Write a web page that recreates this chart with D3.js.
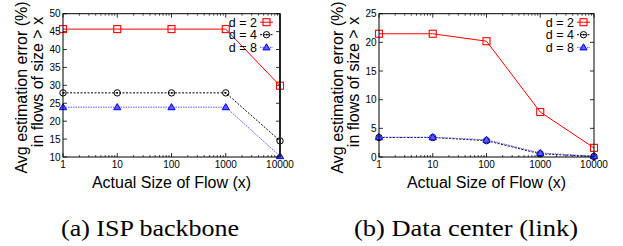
<!DOCTYPE html>
<html>
<head>
<meta charset="utf-8">
<script src="https://cdn.jsdelivr.net/npm/d3@7"></script>
<style>
  body { margin: 0; background: #fff; }
  svg { display: block; }
  text { font-family: "Liberation Sans", Arial, Helvetica, sans-serif; fill: #000; }
</style>
</head>
<body>
<svg width="623" height="246"></svg>
<script>
// data
const flowSizes = [1, 10, 100, 1000, 10000];
const xTickLabels = ["1", "10", "100", "1000", "10000"];

const ispD2 = [45.7, 45.7, 45.7, 45.7, 29.9];
const ispD4 = [27.9, 27.9, 27.9, 27.9, 14.5];
const ispD8 = [23.9, 23.9, 23.9, 23.9, 10.25];
const ispYTicks = [10, 15, 20, 25, 30, 35, 40, 45, 50];

const dcD2 = [21.5, 21.5, 20.2, 7.85, 1.6];
const dcD4 = [3.4, 3.4, 2.85, 0.55, 0.1];
const dcD8 = [3.45, 3.45, 3.0, 0.7, 0.15];
const dcYTicks = [0, 5, 10, 15, 20, 25];

const seriesNames = ["d = 2", "d = 4", "d = 8"];
const captions = ["(a) ISP backbone", "(b) Data center (link)"];

const svg = d3.select("svg");

const styles = [
  {color: "#ff0000", dash: null, marker: "square", lineColor: "#ff0000"},
  {color: "#000000", dash: "2,1.5", marker: "circle", lineColor: "#000000"},
  {color: "#0000ff", dash: "1.5,1", marker: "triangle", lineColor: "#5a5aff"}
];

function drawMarker(g, type, x, y, color) {
  if (type == "square") {
    g.append("rect")
      .attr("x", x - 3.5).attr("y", y - 3.5)
      .attr("width", 7).attr("height", 7)
      .attr("fill", "none").attr("stroke", color).attr("stroke-width", 1.1);
  } else if (type == "circle") {
    g.append("circle").attr("cx", x).attr("cy", y).attr("r", 3.2)
      .attr("fill", "none").attr("stroke", color).attr("stroke-width", 1);
    g.append("circle").attr("cx", x).attr("cy", y).attr("r", 0.9).attr("fill", color);
  } else {
    const s = 3.6;
    g.append("path")
      .attr("d", `M${x},${y - s} L${x + s},${y + s * 0.7} L${x - s},${y + s * 0.7} Z`)
      .attr("fill", "#5c5cff").attr("stroke", color).attr("stroke-width", 1);
  }
}

function drawPanel(opt) {
  const {left, right, top, bottom, yDomain, yTicks, series, caption, captionX, captionW, legendX, rightBorder} = opt;

  const x = d3.scaleLog().domain([1, 10000]).range([left, right]);
  const y = d3.scaleLinear().domain(yDomain).range([bottom, top]);

  const g = svg.append("g");

  // ticks: major inward on all sides, minor log ticks on x
  const majT = 4, minT = 2;
  yTicks.forEach(t => {
    g.append("line").attr("x1", left).attr("x2", left + majT).attr("y1", y(t)).attr("y2", y(t))
      .attr("stroke", "#000").attr("stroke-width", 0.8);
    g.append("line").attr("x1", right).attr("x2", right - majT).attr("y1", y(t)).attr("y2", y(t))
      .attr("stroke", "#000").attr("stroke-width", 0.8);
    g.append("text")
      .attr("x", left - 2.5).attr("y", y(t) + 3.5)
      .attr("text-anchor", "end")
      .attr("font-size", "10px")
      .text(t);
  });

  flowSizes.forEach((v, i) => {
    g.append("line").attr("x1", x(v)).attr("x2", x(v)).attr("y1", bottom).attr("y2", bottom - majT)
      .attr("stroke", "#000").attr("stroke-width", 0.8);
    g.append("line").attr("x1", x(v)).attr("x2", x(v)).attr("y1", top).attr("y2", top + majT)
      .attr("stroke", "#000").attr("stroke-width", 0.8);
    g.append("text")
      .attr("x", x(v)).attr("y", bottom + 10.5)
      .attr("text-anchor", "middle")
      .attr("font-size", "10px")
      .text(xTickLabels[i]);
    if (v < 10000) {
      for (let k = 2; k < 10; k++) {
        const mx = x(v * k);
        g.append("line").attr("x1", mx).attr("x2", mx).attr("y1", bottom).attr("y2", bottom - minT)
          .attr("stroke", "#000").attr("stroke-width", 0.7);
        g.append("line").attr("x1", mx).attr("x2", mx).attr("y1", top).attr("y2", top + minT)
          .attr("stroke", "#000").attr("stroke-width", 0.7);
      }
    }
  });

  // series
  series.forEach((vals, si) => {
    const st = styles[si];
    const line = d3.line().x((d, i) => x(flowSizes[i])).y(d => y(d));
    g.append("path")
      .attr("d", line(vals))
      .attr("fill", "none")
      .attr("stroke", st.lineColor)
      .attr("stroke-width", 1)
      .attr("stroke-dasharray", st.dash);
    vals.forEach((v, i) => drawMarker(g, st.marker, x(flowSizes[i]), y(v), st.color));
  });

  // legend
  const legendRows = [top + 8.5, top + 21, top + 33.7];
  seriesNames.forEach((name, si) => {
    const st = styles[si];
    const ly = legendRows[si];
    g.append("text")
      .attr("x", legendX).attr("y", ly + 4.3)
      .attr("text-anchor", "end")
      .attr("font-size", "12.5px")
      .text(name);
    g.append("line")
      .attr("x1", legendX + 3).attr("x2", legendX + 16)
      .attr("y1", ly).attr("y2", ly)
      .attr("stroke", st.lineColor).attr("stroke-width", 1)
      .attr("stroke-dasharray", st.dash);
    drawMarker(g, st.marker, legendX + 9.5, ly, st.color);
  });

  // frame
  g.append("rect")
    .attr("x", left).attr("y", top)
    .attr("width", right - left).attr("height", bottom - top)
    .attr("fill", "none").attr("stroke", "#000").attr("stroke-width", 1);
  if (rightBorder) {
    g.append("line").attr("x1", right).attr("x2", right).attr("y1", top).attr("y2", bottom)
      .attr("stroke", "#222").attr("stroke-width", rightBorder);
  }

  // axis titles
  g.append("text")
    .attr("x", (left + right) / 2).attr("y", 188)
    .attr("text-anchor", "middle")
    .attr("font-size", "16px")
    .text("Actual Size of Flow (x)");

  g.append("text")
    .attr("transform", "rotate(-90)")
    .attr("x", -87.5).attr("y", left - 36)
    .attr("text-anchor", "middle")
    .attr("font-size", "16px")
    .text("Avg estimation error (%)");
  g.append("text")
    .attr("transform", "rotate(-90)")
    .attr("x", -82).attr("y", left - 20)
    .attr("text-anchor", "middle")
    .attr("font-size", "16px")
    .text("in flows of size > x");

  // caption
  svg.append("text")
    .attr("x", captionX - captionW / 2).attr("y", 236)
    .attr("textLength", captionW)
    .attr("lengthAdjust", "spacingAndGlyphs")
    .style("font-family", "'Liberation Serif', 'Times New Roman', serif")
    .attr("font-size", "23px")
    .text(caption);
}

drawPanel({
  left: 63, right: 280, top: 13.7, bottom: 157,
  yDomain: [10, 50], yTicks: ispYTicks,
  series: [ispD2, ispD4, ispD8],
  caption: captions[0], captionX: 150, captionW: 178,
  legendX: 257, rightBorder: 2
});

drawPanel({
  left: 379, right: 594, top: 13.7, bottom: 157,
  yDomain: [0, 25], yTicks: dcYTicks,
  series: [dcD2, dcD4, dcD8],
  caption: captions[1], captionX: 466, captionW: 224,
  legendX: 574, rightBorder: 0
});
</script>
</body>
</html>
